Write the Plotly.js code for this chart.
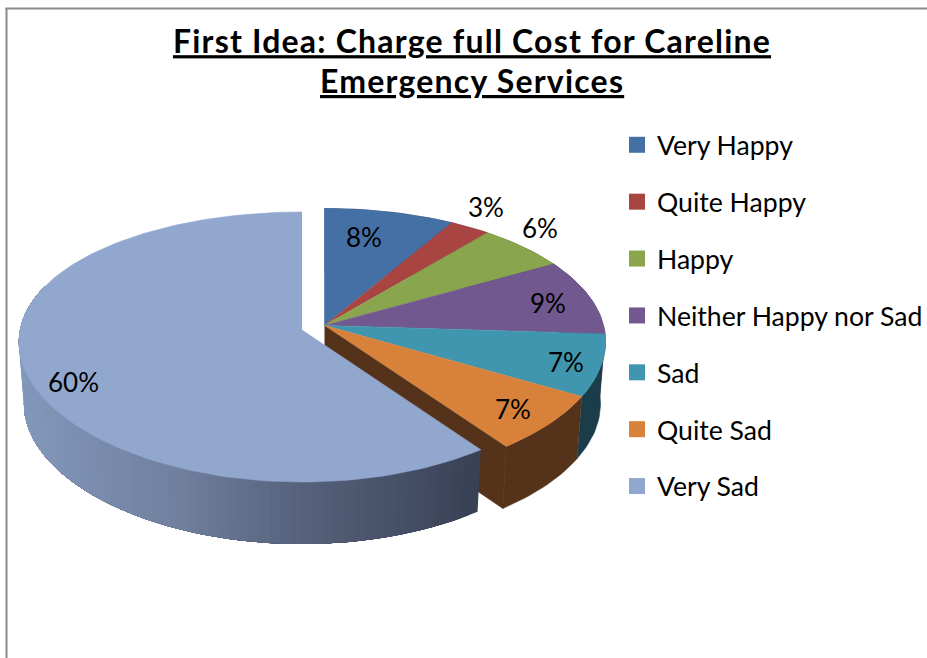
<!DOCTYPE html>
<html><head><meta charset="utf-8">
<script src="https://cdn.plot.ly/plotly-3.0.1.min.js"></script>
<style>html,body{margin:0;padding:0;background:#fff}#chart{width:927px;height:658px}</style>
</head><body><div id="chart"></div>
<script>
const categories = ['Very Happy','Quite Happy','Happy','Neither Happy nor Sad','Sad','Quite Sad','Very Sad'];
const values = [8.4,2.6,5.8,9.2,7.3,6.7,60];
const colors = ['#4470a5','#a84543','#89a54e','#71588f','#3f96ae','#d7813b','#92a7ce'];
const sideColors = ['#2a4465','#672a28','#536430','#453657','#1b3d49','#55331a','#394155'];
const labelX = [364,486,540,548,566,513,73];
const labelY = [237,207,228,303,362,409,382];
const titleLines = ['First Idea: Charge full Cost for Careline','Emergency Services'];

const FONT = 'Lato, Carlito, "Open Sans", sans-serif';
const DEPTH = 62, SHRINK = 0.982;
const rightGroup = {ax:324.5, ay:325.5, R:279, k:0.1365, kx:0.12, c:133};
const leftGroup  = {ax:302,   ay:330,   R:282, k:0.126,  kx:0.09, c:132.9};

function proj(g,deg){
  const t = deg*Math.PI/180, cs = Math.cos(t);
  return [g.ax + g.R*Math.sin(t)/(1+g.kx*cs), g.ay - g.c*cs/(1+g.k*cs)];
}
function lower(g,p){ return [g.ax + (p[0]-g.ax)*SHRINK, p[1]+DEPTH]; }
function arc(g,a,b){
  const n = Math.max(2,Math.ceil((b-a)/1.5)), pts=[];
  for(let i=0;i<=n;i++) pts.push(proj(g,a+(b-a)*i/n));
  return pts;
}
function poly(pts,color,name,w){
  return {type:'scatter',mode:'lines',x:pts.map(p=>p[0]),y:pts.map(p=>p[1]),fill:'toself',
    fillcolor:color,line:{color:color,width:w===undefined?0.6:w},showlegend:false,hoverinfo:'text',text:name};
}
function mix(stops,f){
  let i=0; while(i<stops.length-2 && f>stops[i+1][0]) i++;
  const a=stops[i],b=stops[i+1],u=Math.min(1,Math.max(0,(f-a[0])/(b[0]-a[0])));
  const c=[1,2,3].map(j=>Math.round(a[j]+(b[j]-a[j])*u));
  return `rgb(${c[0]},${c[1]},${c[2]})`;
}
const sideStops=[[0,130,152,187],[0.35,112,128,158],[0.62,86,98,124],[1,57,65,85]];

const total = values.reduce((a,b)=>a+b,0);
const traces=[]; let ang=0; const spans=[];
values.forEach(v=>{spans.push([ang,ang+v/total*360]); ang+=v/total*360;});
const last = values.length-1;

for(let i=0;i<last;i++){
  const g=rightGroup,[a,b]=spans[i],top=arc(g,a,b);
  traces.push(poly(top.concat(top.map(p=>lower(g,p)).reverse()),sideColors[i],categories[i]));
}
{
  const g=rightGroup,c=proj(g,spans[last-1][1]),ap=[g.ax,g.ay];
  traces.push(poly([ap,c,lower(g,c),lower(g,ap)],sideColors[last-1],categories[last-1]));
}
for(let i=0;i<last;i++){
  const g=rightGroup,[a,b]=spans[i];
  traces.push(poly([[g.ax,g.ay]].concat(arc(g,a,b)),colors[i],categories[i]));
}
{
  // rim painted from the dark end to the light end, each band overlapping the rest so no seams show
  const g=leftGroup,[a,b]=spans[last];
  const visEnd=Math.min(b,290), n=Math.ceil((visEnd-a)/2);
  for(let j=0;j<n;j++){
    const s=a+(visEnd-a)*j/n,top=arc(g,s,visEnd),p=proj(g,s);
    traces.push(poly(top.concat(top.map(q=>lower(g,q)).reverse()),mix(sideStops,(480-p[0])/-460+1),categories[last],0));
  }
  traces.push(poly([[g.ax,g.ay]].concat(arc(g,a,b)),colors[last],categories[last]));
}
categories.forEach((c,i)=>traces.push({type:'scatter',mode:'markers',x:[null],y:[null],name:c,legendgroup:c,
  marker:{symbol:'square',size:16,color:colors[i]},showlegend:true}));

const annotations = values.map((v,i)=>({x:labelX[i],y:labelY[i],xref:'x',yref:'y',text:Math.round(v)+'%',
  showarrow:false,font:{family:FONT,size:26,color:'#000'},xanchor:'center',yanchor:'middle'}));
const spaced = t => `<b><span style="letter-spacing:1.2px">${t}</span></b>`;
annotations.push({x:472,y:80,xref:'x',yref:'y',text:spaced(titleLines[1]),showarrow:false,xanchor:'center',yanchor:'middle',
  font:{family:FONT,size:32,color:'#000',lineposition:'under'}});

const layout={
  width:927,height:658,margin:{l:0,r:0,t:0,b:0,autoexpand:false},paper_bgcolor:'#fff',plot_bgcolor:'#fff',
  title:{text:spaced(titleLines[0]),x:472/927,xanchor:'center',xref:'paper',yref:'container',y:1-42/658,yanchor:'middle',
    font:{family:FONT,size:32,color:'#000',lineposition:'under'}},
  xaxis:{range:[0,927],visible:false,fixedrange:true},
  yaxis:{range:[658,0],visible:false,fixedrange:true},
  legend:{x:617/927,xanchor:'left',y:1-121/658,yanchor:'top',tracegroupgap:19.3,bgcolor:'rgba(0,0,0,0)',
    font:{family:FONT,size:26.6,color:'#000'},traceorder:'grouped'},
  shapes:[
    {type:'line',xref:'x',yref:'y',x0:6.5,x1:6.5,y0:8,y1:658,line:{color:'#8a8a8a',width:2}},
    {type:'line',xref:'x',yref:'y',x0:5.5,x1:927,y0:8.5,y1:8.5,line:{color:'#8a8a8a',width:2}}
  ],
  annotations:annotations,showlegend:true
};
Plotly.newPlot('chart',traces,layout,{displayModeBar:false,staticPlot:true});
</script></body></html>
